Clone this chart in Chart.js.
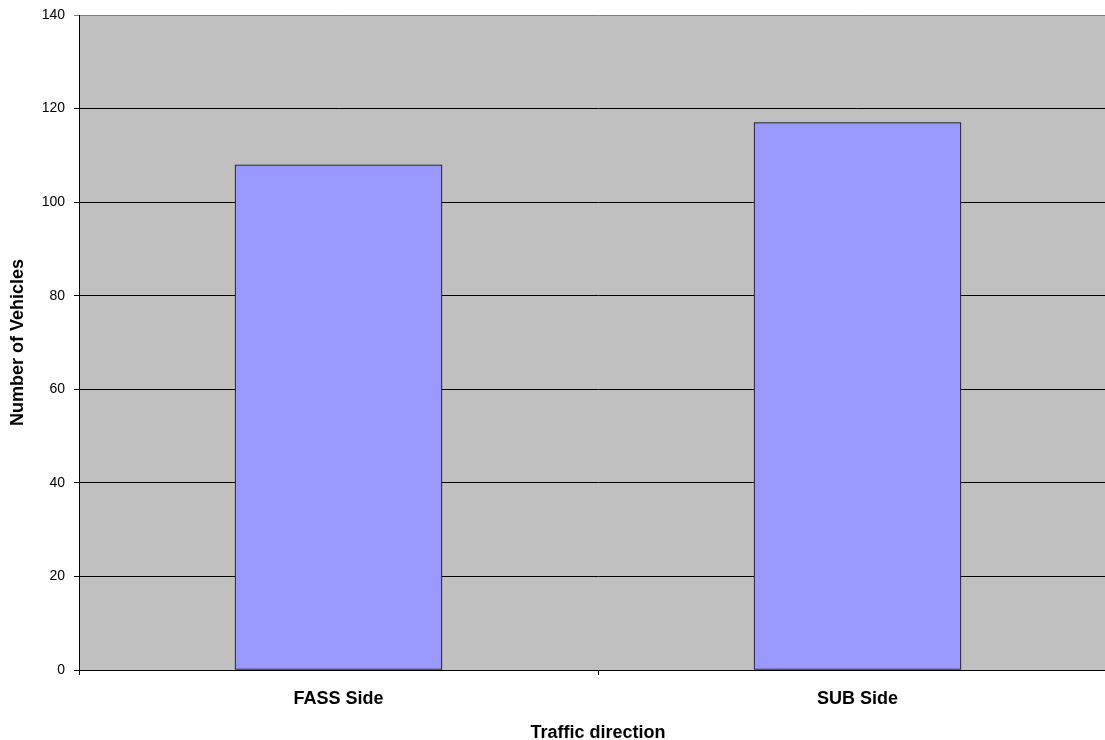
<!DOCTYPE html>
<html>
<head>
<meta charset="utf-8">
<title>Traffic direction</title>
<script src="https://cdn.jsdelivr.net/npm/chart.js@4/dist/chart.umd.min.js"></script>
<style>
    html, body { margin: 0; padding: 0; background: #fff; overflow: hidden; }
    #wrap { width: 1105px; height: 740px; overflow: hidden; }
</style>
</head>
<body>
<div id="wrap"><canvas id="chart" width="1117" height="740"></canvas></div>
<script>
// Vehicle counts per side
const categories = ['FASS Side', 'SUB Side'];
const vehicles = [108, 117];
const yTicks = [0, 20, 40, 60, 80, 100, 120, 140];

// grey plot area, painted before the grid and bars
const plotBackground = {
    id: 'plotBackground',
    beforeDraw(chart) {
        const { ctx, chartArea } = chart;
        ctx.save();
        ctx.fillStyle = '#C0C0C0';
        ctx.fillRect(chartArea.left, chartArea.top, chartArea.right - chartArea.left, chartArea.bottom - chartArea.top);
        ctx.restore();
    }
};

const ctx = document.getElementById('chart').getContext('2d');
new Chart(ctx, {
    type: 'bar',
    data: {
        labels: categories,
        datasets: [{
            label: 'Number of Vehicles',
            data: vehicles,
            backgroundColor: '#9999FF',
            borderColor: '#000000',
            borderWidth: 1,
            borderSkipped: false,
            barThickness: 207
        }]
    },
    options: {
        responsive: false,
        animation: false,
        layout: { padding: { top: 15, left: 0, right: 0, bottom: 0 } },
        plugins: {
            legend: { display: false },
            tooltip: { enabled: false }
        },
        scales: {
            x: {
                offset: true,
                afterFit(scale) {
                    scale.height = 70;
                    scale.paddingLeft = 0;
                    scale.paddingRight = 0;
                },
                grid: {
                    offset: true,
                    drawOnChartArea: false,
                    tickLength: 5,
                    color: '#000000'
                },
                border: { color: '#000000', width: 1 },
                ticks: {
                    color: '#000000',
                    padding: 13,
                    font: { family: '"Liberation Sans", Arial, sans-serif', size: 18, weight: 'bold' }
                },
                title: {
                    display: true,
                    text: 'Traffic direction',
                    color: '#000000',
                    padding: { top: 0, bottom: -2 },
                    font: { family: '"Liberation Sans", Arial, sans-serif', size: 18, weight: 'bold', lineHeight: 1 }
                }
            },
            y: {
                min: 0,
                max: 140,
                afterFit(scale) {
                    scale.width = 79;
                    scale.paddingTop = 0;
                    scale.paddingBottom = 0;
                },
                afterBuildTicks(scale) { scale.ticks = yTicks.map(v => ({ value: v })); },
                grid: {
                    tickLength: 5,
                    color: c => (c.tick && c.tick.value === 140) ? '#808080' : '#000000'
                },
                border: { color: '#000000', width: 1 },
                ticks: {
                    color: '#000000',
                    padding: 9,
                    font: { family: '"Liberation Sans", Arial, sans-serif', size: 14 }
                },
                title: {
                    display: true,
                    text: 'Number of Vehicles',
                    color: '#000000',
                    padding: { top: 9, bottom: 0 },
                    font: { family: '"Liberation Sans", Arial, sans-serif', size: 18, weight: 'bold', lineHeight: 1 }
                }
            }
        }
    },
    plugins: [plotBackground]
});
</script>
</body>
</html>
